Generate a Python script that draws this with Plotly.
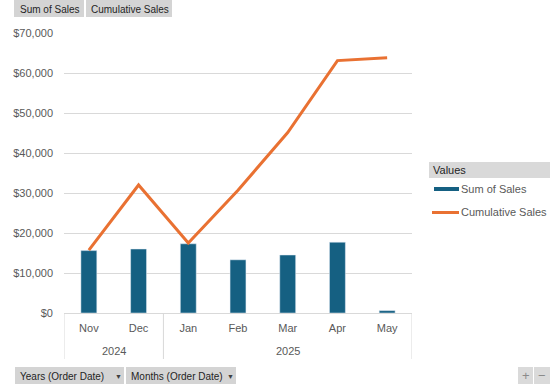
import plotly.graph_objects as go

months = ["Nov", "Dec", "Jan", "Feb", "Mar", "Apr", "May"]
years = ["2024", "2025"]
year_month_counts = [2, 5]
sum_of_sales = [15600, 16000, 17300, 13300, 14500, 17700, 600]
cumulative_sales = [15700, 32000, 17500, 30700, 45100, 63100, 63800]
y_ticks = [0, 10000, 20000, 30000, 40000, 50000, 60000, 70000]

BAR = "#156082"
LINE = "#E97132"
GRID = "#D9D9D9"
TXT = "#595959"
BTN = "#D4D4D4"
FONT = "Liberation Sans"

W, H = 550, 384
# plot area in page pixel coords
PX0, PX1, PY0, PY1 = 64, 412, 33, 313
PW, PH = PX1 - PX0, PY1 - PY0
L, T = PX0, PY0
R, B = W - L - PW, H - T - PH

x = list(range(len(months)))

fig = go.Figure()
fig.add_trace(go.Bar(x=x, y=sum_of_sales, name="Sum of Sales", marker_color=BAR,
                     width=0.32, showlegend=False))
fig.add_trace(go.Scatter(x=x, y=cumulative_sales, name="Cumulative Sales", mode="lines",
                         line=dict(color=LINE, width=3), showlegend=False))

shapes = []
annotations = []

def pxx(xp):
    return (xp - PX0) / PW

def pyy(yp):
    return (PY1 - yp) / PH

# category group separators and year labels
start = 0
bounds = [-0.5]
for yr, n in zip(years, year_month_counts):
    end = start + n
    bounds.append(end - 0.5)
    annotations.append(dict(x=(start + end - 1) / 2, xref="x", y=pyy(351), yref="paper",
                            text=yr, showarrow=False, font=dict(family=FONT, size=11, color=TXT),
                            xanchor="center", yanchor="middle"))
    start = end
for b in bounds:
    shapes.append(dict(type="line", xref="x", yref="paper", x0=b, x1=b, y0=0, y1=pyy(359),
                       line=dict(color=GRID, width=1)))

def btn(x0, x1, y0, y1, fill=BTN):
    shapes.append(dict(type="rect", xref="paper", yref="paper",
                       x0=pxx(x0), x1=pxx(x1), y0=pyy(y1), y1=pyy(y0),
                       fillcolor=fill, line=dict(width=0), layer="below"))

def label(xp, yp, text, size=10, color="#1F1F1F", anchor="left"):
    annotations.append(dict(x=pxx(xp), y=pyy(yp), xref="paper", yref="paper",
                            text=text, showarrow=False, xanchor=anchor, yanchor="middle",
                            font=dict(family=FONT, size=size, color=color)))

btn(14, 84, 0, 17)
label(18, 9, "Sum of Sales")
btn(86, 172, 0, 17)
label(89, 9, "Cumulative Sales")

btn(15, 124, 367, 384)
label(18, 376, "Years (Order Date)")
label(118, 376, "▼", size=7, color="#404040", anchor="center")
btn(126, 236, 367, 384)
label(129, 376, "Months (Order Date)")
label(230, 376, "▼", size=7, color="#404040", anchor="center")

btn(518, 533, 367, 384, fill="#DADADA")
label(525.5, 375, "+", size=13, color="#8A8A8A", anchor="center")
btn(534, 550, 367, 384, fill="#DADADA")
label(542, 375, "−", size=13, color="#8A8A8A", anchor="center")

# legend
btn(429, 550, 162, 178, fill="#D9D9D9")
label(431, 170, "Values", size=11, color="#1F1F1F")
btn(434, 459, 187, 191, fill=BAR)
label(459, 189, "Sum of Sales", size=11, color=TXT)
shapes.append(dict(type="line", xref="paper", yref="paper",
                   x0=pxx(432), x1=pxx(459), y0=pyy(212.5), y1=pyy(212.5),
                   line=dict(color=LINE, width=3)))
label(459, 212, "Cumulative Sales", size=11, color=TXT)

fig.update_layout(
    width=W, height=H,
    margin=dict(l=L, r=R, t=T, b=B, pad=0),
    paper_bgcolor="white", plot_bgcolor="white",
    shapes=shapes, annotations=annotations,
    font=dict(family=FONT, size=11, color=TXT),
)
fig.update_xaxes(range=[-0.5, len(months) - 0.5], tickvals=x, ticktext=months,
                 showgrid=False, showline=True, linecolor=GRID, linewidth=1,
                 ticks="", ticklabelstandoff=5, tickfont=dict(family=FONT, size=11, color=TXT),
                 zeroline=False, fixedrange=True)
fig.update_yaxes(range=[0, 70000], tickvals=y_ticks, tickformat="$,.0f",
                 showgrid=True, gridcolor=GRID, gridwidth=1, zeroline=False,
                 showline=False, ticks="", ticklabelstandoff=10,
                 tickfont=dict(family=FONT, size=11, color=TXT), fixedrange=True)

fig.write_html("out.html", config={"displayModeBar": False},
               post_script="document.body.style.margin='0';")
